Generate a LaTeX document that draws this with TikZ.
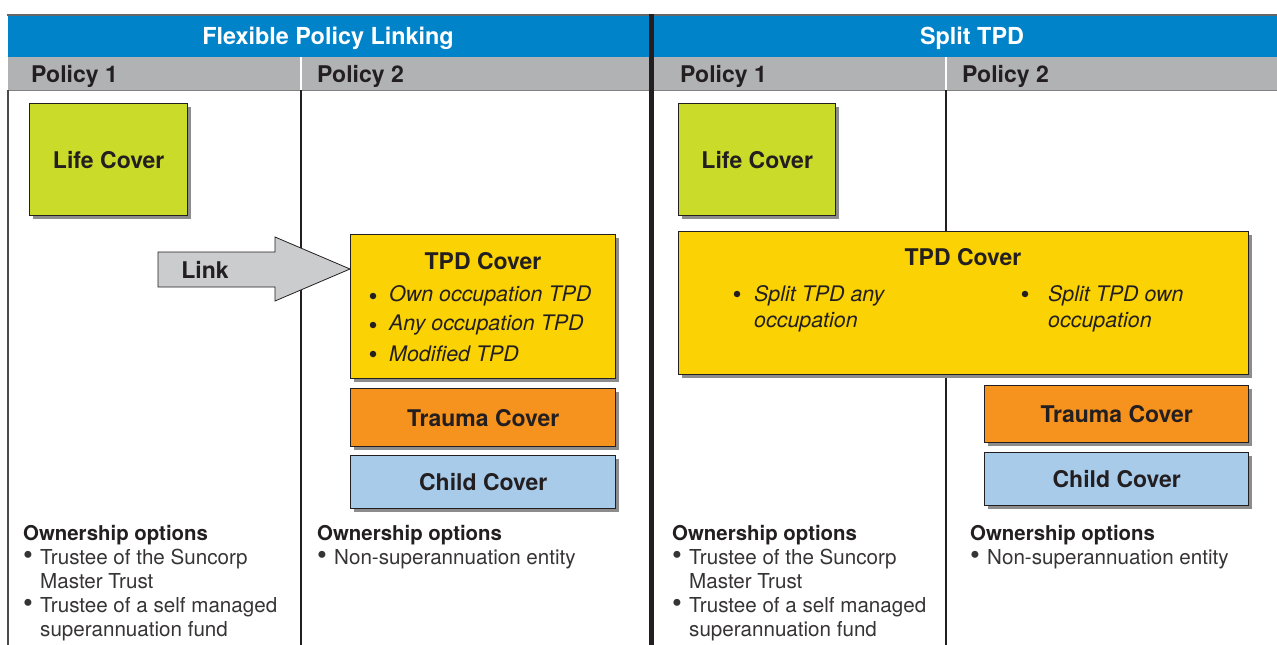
\documentclass[tikz,border=0pt]{standalone}
\usepackage{fontspec}
\setmainfont{TeX Gyre Heros}
\usetikzlibrary{shadows}
\definecolor{hdrblue}{RGB}{0,131,201}
\definecolor{bandgray}{RGB}{177,178,180}
\definecolor{lifegreen}{RGB}{203,219,42}
\definecolor{tpdyellow}{RGB}{251,210,3}
\definecolor{traumaorange}{RGB}{246,146,30}
\definecolor{childblue}{RGB}{169,203,234}
\definecolor{arrowgray}{RGB}{203,204,206}
\definecolor{ink}{RGB}{35,31,32}
\definecolor{owntext}{RGB}{55,52,53}
\tikzset{
  hdr/.style={text=white,font=\fontsize{23.4}{26}\selectfont\bfseries,inner sep=0},
  pol/.style={text=ink,font=\fontsize{23}{26}\selectfont\bfseries,inner sep=0,anchor=west},
  cover/.style={draw=ink,line width=1.4,anchor=north west,inner sep=0,
    drop shadow={shadow xshift=3pt,shadow yshift=-3pt,fill=black!45,opacity=1}},
  lbl/.style={text=ink,font=\fontsize{23}{26}\selectfont\bfseries,inner sep=0},
  itm/.style={text=ink,font=\fontsize{21.4}{26}\selectfont\itshape,inner sep=0,anchor=west},
  blt/.style={circle,fill=ink,inner sep=0,minimum size=6.5},
  own/.style={text=owntext,font=\fontsize{20.6}{24}\selectfont,inner sep=0,anchor=north west,align=left},
  divider/.style={draw=ink,line width=2},
}
\newcommand{\bl}{\makebox[17pt][l]{\raisebox{-0.5pt}{\fontsize{28}{24}\selectfont\textbullet}}}
\newcommand{\ind}{\hspace*{17pt}}
\newcommand{\ownhead}{{\color{ink}\fontsize{20.4}{24}\selectfont\bfseries Ownership options}}
\begin{document}
\begin{tikzpicture}[x=1pt,y=-1pt]
\useasboundingbox (0,0) rectangle (1277,645);
\fill[white] (0,0) rectangle (1277,645);
% bands
\draw[black!60,line width=1.2] (7,15) -- (1277,15);
\fill[hdrblue] (8,16) rectangle (1277,56.5);
\fill[bandgray] (8,57) rectangle (1277,90);
\draw[black!50,line width=1] (8,90.5) -- (1277,90.5);
\draw[white,line width=2] (301,57) -- (301,90);
\draw[white,line width=2] (946,57) -- (946,90);
\draw[black!70,line width=1.5] (8,90) -- (8,645);
\draw[divider] (301,90) -- (301,645);
\draw[divider] (946,90) -- (946,645);
\draw[ink,line width=5] (651,14) -- (651,645);
% headers
\node[hdr] (h1) at (328,38.5) {Flexible Policy Linking};
\node[hdr] (h2) at (972,38.5) {Split TPD};
\node[pol] (p11) at (31,76.5) {Policy 1};
\node[pol] (p12) at (317,76.5) {Policy 2};
\node[pol] (p21) at (680,76.5) {Policy 1};
\node[pol] (p22) at (962,76.5) {Policy 2};
% left section boxes
\node[cover,fill=lifegreen,minimum width=158,minimum height=112] (life1) at (29,103) {};
\node[lbl] (life1t) at (life1.center) {Life Cover};
\node[cover,fill=tpdyellow,minimum width=265,minimum height=144] (tpd1) at (350,234) {};
\node[lbl] (tpd1t) at (483,261) {TPD Cover};
\node[blt] (b11) at (373,296) {};
\node[itm] (i11) at (389,296) {Own occupation TPD};
\node[blt] (b12) at (373,325) {};
\node[itm] (i12) at (389,325) {Any occupation TPD};
\node[blt] (b13) at (373,354) {};
\node[itm] (i13) at (389,354) {Modified TPD};
\node[cover,fill=traumaorange,minimum width=265,minimum height=58] (tr1) at (350,388) {};
\node[lbl] (tr1t) at (tr1.center) {Trauma Cover};
\node[cover,fill=childblue,minimum width=265,minimum height=53] (ch1) at (350,455) {};
\node[lbl] (ch1t) at (ch1.center) {Child Cover};
% link arrow
\draw[ink,line width=0.8,fill=arrowgray] (158,252) -- (275,252) -- (275,237) -- (tpd1.west |- 0,269) -- (275,301) -- (275,287) -- (158,287) -- cycle;
\node[lbl] (link) at (205,270) {Link};
% right section boxes
\node[cover,fill=lifegreen,minimum width=157,minimum height=112] (life2) at (678,103) {};
\node[lbl] (life2t) at (life2.center) {Life Cover};
\node[cover,fill=tpdyellow,minimum width=570,minimum height=143] (tpd2) at (678,231) {};
\node[lbl] (tpd2t) at (963,257) {TPD Cover};
\node[blt] (b21) at (737,294) {};
\node[itm,align=left,anchor=north west] (i21) at (754,285) {Split TPD any\\occupation};
\node[blt] (b22) at (1025,294) {};
\node[itm,align=left,anchor=north west] (i22) at (1048,285) {Split TPD own\\occupation};
\node[cover,fill=traumaorange,minimum width=264,minimum height=57] (tr2) at (984,385) {};
\node[lbl] (tr2t) at (tr2.center) {Trauma Cover};
\node[cover,fill=childblue,minimum width=264,minimum height=53] (ch2) at (984,452) {};
\node[lbl] (ch2t) at (ch2.center) {Child Cover};
% ownership
\node[own] (o11) at (23,525) {\ownhead\\\bl Trustee of the Suncorp\\\ind Master Trust\\\bl Trustee of a self managed\\\ind superannuation fund};
\node[own] (o12) at (317,525) {\ownhead\\\bl Non-superannuation entity};
\node[own] (o21) at (672,525) {\ownhead\\\bl Trustee of the Suncorp\\\ind Master Trust\\\bl Trustee of a self managed\\\ind superannuation fund};
\node[own] (o22) at (970,525) {\ownhead\\\bl Non-superannuation entity};
\end{tikzpicture}
\end{document}
